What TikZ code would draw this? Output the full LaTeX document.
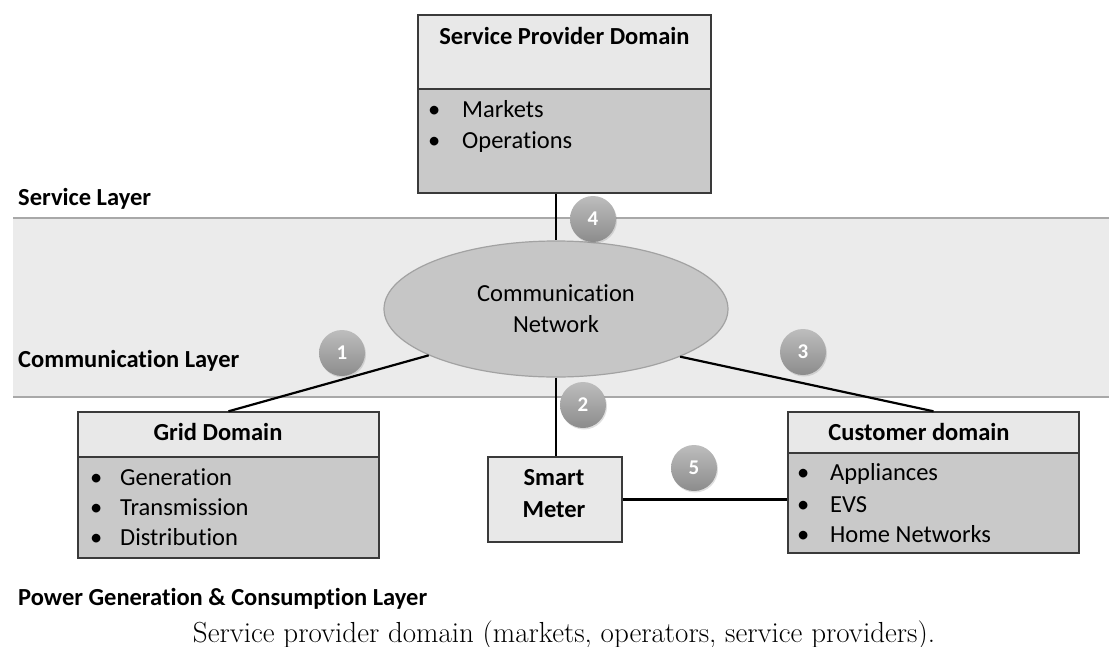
\documentclass[tikz,border=0pt]{standalone}
\usepackage{fontspec}
\newfontfamily\calibri[Ligatures=NoCommon]{Carlito}
\usetikzlibrary{shapes.geometric,shadows}
\definecolor{bandfill}{HTML}{EBEBEB}
\definecolor{bandline}{HTML}{A8A8A8}
\definecolor{hdrfill}{HTML}{E8E8E8}
\definecolor{bodyfill}{HTML}{C9C9C9}
\definecolor{boxline}{HTML}{3A3A3A}
\definecolor{ellfill}{HTML}{C6C6C6}
\definecolor{ellline}{HTML}{A2A2A2}
\definecolor{numtop}{HTML}{BDBDBD}
\definecolor{numbot}{HTML}{8C8C8C}
\begin{document}
\begin{tikzpicture}[x=1pt,y=-1pt,
  hdrbox/.style={draw=boxline, line width=1.4pt, fill=hdrfill, inner sep=0pt},
  bodybox/.style={draw=boxline, line width=1.4pt, fill=bodyfill, inner sep=0pt},
  txt/.style={font=\calibri\fontsize{24.5}{28}\selectfont, inner sep=0pt, text=black},
  btxt/.style={font=\calibri\bfseries\fontsize{24.5}{28}\selectfont, inner sep=0pt, text=black},
  conn/.style={draw=black, line width=2.2pt},
  numc/.style={circle, minimum size=46pt, inner sep=0pt, top color=numtop, bottom color=numbot,
    text=white, font=\calibri\bfseries\fontsize{21}{21}\selectfont,
    drop shadow={opacity=0.25, shadow xshift=1pt, shadow yshift=-1.5pt}},
  caption/.style={font=\fontsize{29}{31}\selectfont, inner sep=0pt}
]
\useasboundingbox (0,0) rectangle (1109,646);

% communication band
\fill[bandfill] (13,218) rectangle (1109,397);
\draw[bandline, line width=2pt] (13,218) -- (1109,218);
\draw[bandline, line width=2pt] (13,397) -- (1109,397);

% layer labels
\node[btxt, anchor=base west] (lserv) at (18,205) {Service Layer};
\node[btxt, anchor=base west] (lcomm) at (18,367) {Communication Layer};
\node[btxt, anchor=base west] (lpow) at (18,605) {Power Generation \& Consumption Layer};

% communication network
\node[ellipse, draw=ellline, line width=1.2pt, fill=ellfill, minimum width=344pt, minimum height=136pt, inner sep=0pt] (net) at (556,309) {};
\node[txt, anchor=base] (nett1) at (556,301) {Communication};
\node[txt, anchor=base] (nett2) at (556,332) {Network};

% service provider domain
\node[hdrbox, minimum width=293pt, minimum height=74pt] (sph) at (564.5,52) {};
\node[bodybox, minimum width=293pt, minimum height=104pt] (spb) at (564.5,141) {};
\node[btxt, anchor=base] (spt) at (564.5,44) {Service Provider Domain};
\node[txt, anchor=base west] (sp1) at (428,117) {\makebox[34pt][l]{•}Markets};
\node[txt, anchor=base west] (sp2) at (428,148) {\makebox[34pt][l]{•}Operations};

% grid domain
\node[hdrbox, minimum width=301pt, minimum height=45pt] (gdh) at (228.5,434.5) {};
\node[bodybox, minimum width=301pt, minimum height=101pt] (gdb) at (228.5,507.5) {};
\node[btxt, anchor=base] (gdt) at (218,440) {Grid Domain};
\node[txt, anchor=base west] (gd1) at (90,485) {\makebox[30pt][l]{•}Generation};
\node[txt, anchor=base west] (gd2) at (90,515) {\makebox[30pt][l]{•}Transmission};
\node[txt, anchor=base west] (gd3) at (90,545) {\makebox[30pt][l]{•}Distribution};

% customer domain
\node[hdrbox, minimum width=291pt, minimum height=41pt] (cdh) at (933.5,432.5) {};
\node[bodybox, minimum width=291pt, minimum height=100pt] (cdb) at (933.5,503) {};
\node[btxt, anchor=base] (cdt) at (919,440) {Customer domain};
\node[txt, anchor=base west] (cd1) at (797,480) {\makebox[33pt][l]{•}Appliances};
\node[txt, anchor=base west] (cd2) at (797,512) {\makebox[33pt][l]{•}EVS};
\node[txt, anchor=base west] (cd3) at (797,542) {\makebox[33pt][l]{•}Home Networks};

% smart meter
\node[hdrbox, minimum width=134pt, minimum height=85pt] (sm) at (555,499.5) {};
\node[btxt, anchor=base] (smt1) at (554,485) {Smart};
\node[btxt, anchor=base] (smt2) at (554,517) {Meter};

% connectors
\draw[conn] (spb.south -| net.north) -- (net.north);
\draw[conn] (net.200.5) -- (gdh.north);
\draw[conn] (net.339.5) -- (cdh.north);
\draw[conn] (net.south) -- (sm.north -| net.south);
\draw[conn] (sm.east) -- (sm.east -| cdb.west);

% numbered markers
\node[numc] (n4) at (593,219) {4};
\node[numc] (n1) at (342,353) {1};
\node[numc] (n3) at (803,352) {3};
\node[numc] (n2) at (583,405) {2};
\node[numc] (n5) at (694,468) {5};

% caption
\node[caption, anchor=base] (cap) at (564,642) {Service provider domain (markets, operators, service providers).};
\end{tikzpicture}
\end{document}
